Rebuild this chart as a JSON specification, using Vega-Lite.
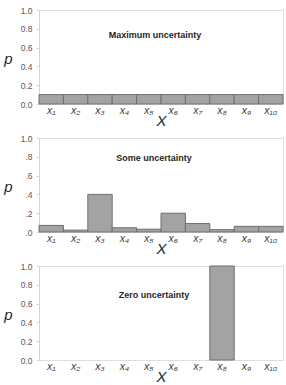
{
  "$schema": "https://vega.github.io/schema/vega-lite/v6.json",
  "background": "white",
  "padding": {"left": 3, "top": 5, "right": 4, "bottom": 2},
  "datasets": {
    "maximum": [
      {"x": "x₁", "p": 0.1}, {"x": "x₂", "p": 0.1}, {"x": "x₃", "p": 0.1}, {"x": "x₄", "p": 0.1}, {"x": "x₅", "p": 0.1},
      {"x": "x₆", "p": 0.1}, {"x": "x₇", "p": 0.1}, {"x": "x₈", "p": 0.1}, {"x": "x₉", "p": 0.1}, {"x": "x₁₀", "p": 0.1}
    ],
    "some": [
      {"x": "x₁", "p": 0.07}, {"x": "x₂", "p": 0.02}, {"x": "x₃", "p": 0.40}, {"x": "x₄", "p": 0.045}, {"x": "x₅", "p": 0.03},
      {"x": "x₆", "p": 0.20}, {"x": "x₇", "p": 0.09}, {"x": "x₈", "p": 0.025}, {"x": "x₉", "p": 0.06}, {"x": "x₁₀", "p": 0.06}
    ],
    "zero": [
      {"x": "x₁", "p": 0}, {"x": "x₂", "p": 0}, {"x": "x₃", "p": 0}, {"x": "x₄", "p": 0}, {"x": "x₅", "p": 0},
      {"x": "x₆", "p": 0}, {"x": "x₇", "p": 0}, {"x": "x₈", "p": 1.0}, {"x": "x₉", "p": 0}, {"x": "x₁₀", "p": 0}
    ]
  },
  "vconcat": [
    {
      "width": 244,
      "height": 94,
      "layer": [
        {
          "data": {"name": "maximum"},
          "transform": [{"filter": "datum.p > 0"}],
          "mark": {"type": "bar", "fill": "#a3a3a3", "stroke": "#6f6f6f", "strokeWidth": 1},
          "encoding": {
            "x": {"field": "x", "type": "nominal", "sort": null,
                  "scale": {"domain": ["x₁","x₂","x₃","x₄","x₅","x₆","x₇","x₈","x₉","x₁₀"], "paddingInner": 0, "paddingOuter": 0},
                  "title": "X"},
            "y": {"field": "p", "type": "quantitative", "scale": {"domain": [0, 1], "nice": false},
                  "axis": {"values": [0, 0.2, 0.4, 0.6, 0.8, 1.0], "format": ".1f", "labelOverlap": false}, "title": "p"}
          }
        },
        {
          "data": {"values": [{"label": "Maximum uncertainty"}]},
          "mark": {"type": "text", "font": "Liberation Sans", "fontWeight": "bold", "fontSize": 9, "color": "#262626", "dx": -6},
          "encoding": {
            "x": {"datum": "x₅", "bandPosition": 1, "type": "nominal"},
            "y": {"datum": 0.73, "type": "quantitative",
                  "axis": {"values": [0, 0.2, 0.4, 0.6, 0.8, 1.0], "format": ".1f", "labelOverlap": false}, "title": "p"},
            "text": {"field": "label"}
          }
        }
      ]
    },
    {
      "width": 244,
      "height": 94,
      "layer": [
        {
          "data": {"name": "some"},
          "transform": [{"filter": "datum.p > 0"}],
          "mark": {"type": "bar", "fill": "#a3a3a3", "stroke": "#6f6f6f", "strokeWidth": 1},
          "encoding": {
            "x": {"field": "x", "type": "nominal", "sort": null,
                  "scale": {"domain": ["x₁","x₂","x₃","x₄","x₅","x₆","x₇","x₈","x₉","x₁₀"], "paddingInner": 0, "paddingOuter": 0},
                  "title": "X"},
            "y": {"field": "p", "type": "quantitative", "scale": {"domain": [0, 1], "nice": false},
                  "axis": {"values": [0, 0.2, 0.4, 0.6, 0.8, 1.0], "labelOverlap": false,
                           "labelExpr": "datum.value >= 1 ? '1.0' : replace(format(datum.value, '.1f'), '0.', '.')"},
                  "title": "p"}
          }
        },
        {
          "data": {"values": [{"label": "Some uncertainty"}]},
          "mark": {"type": "text", "font": "Liberation Sans", "fontWeight": "bold", "fontSize": 9, "color": "#262626", "dx": -7},
          "encoding": {
            "x": {"datum": "x₅", "bandPosition": 1, "type": "nominal"},
            "y": {"datum": 0.79, "type": "quantitative",
                  "axis": {"values": [0, 0.2, 0.4, 0.6, 0.8, 1.0], "labelOverlap": false,
                           "labelExpr": "datum.value >= 1 ? '1.0' : replace(format(datum.value, '.1f'), '0.', '.')"},
                  "title": "p"},
            "text": {"field": "label"}
          }
        }
      ]
    },
    {
      "width": 244,
      "height": 94,
      "layer": [
        {
          "data": {"name": "zero"},
          "transform": [{"filter": "datum.p > 0"}],
          "mark": {"type": "bar", "fill": "#a3a3a3", "stroke": "#6f6f6f", "strokeWidth": 1},
          "encoding": {
            "x": {"field": "x", "type": "nominal", "sort": null,
                  "scale": {"domain": ["x₁","x₂","x₃","x₄","x₅","x₆","x₇","x₈","x₉","x₁₀"], "paddingInner": 0, "paddingOuter": 0},
                  "title": "X"},
            "y": {"field": "p", "type": "quantitative", "scale": {"domain": [0, 1], "nice": false},
                  "axis": {"values": [0, 0.2, 0.4, 0.6, 0.8, 1.0], "format": ".1f", "labelOverlap": false}, "title": "p"}
          }
        },
        {
          "data": {"values": [{"label": "Zero uncertainty"}]},
          "mark": {"type": "text", "font": "Liberation Sans", "fontWeight": "bold", "fontSize": 9, "color": "#262626", "dx": -7},
          "encoding": {
            "x": {"datum": "x₅", "bandPosition": 1, "type": "nominal"},
            "y": {"datum": 0.69, "type": "quantitative",
                  "axis": {"values": [0, 0.2, 0.4, 0.6, 0.8, 1.0], "format": ".1f", "labelOverlap": false}, "title": "p"},
            "text": {"field": "label"}
          }
        }
      ]
    }
  ],
  "spacing": 34,
  "bounds": "flush",
  "config": {
    "view": {"stroke": "#dedede", "strokeWidth": 1},
    "axisX": {
      "domain": false,
      "ticks": false,
      "labelAngle": 0,
      "labelFont": "Liberation Sans",
      "labelFontStyle": "italic",
      "labelFontSize": 10.5,
      "labelColor": "#404040",
      "labelPadding": 1,
      "titleFont": "Liberation Sans",
      "titleFontStyle": "italic",
      "titleFontWeight": "normal",
      "titleFontSize": 15,
      "titleColor": "#262626",
      "titlePadding": -2
    },
    "axisY": {
      "grid": false,
      "domainColor": "#d4d4d4",
      "tickColor": "#d4d4d4",
      "tickSize": 3,
      "labelFlush": false,
      "labelFont": "Liberation Sans",
      "labelFontSize": 8.5,
      "labelColor": "#595959",
      "labelPadding": 4,
      "titleFont": "Liberation Sans",
      "titleFontStyle": "italic",
      "titleFontWeight": "normal",
      "titleFontSize": 15,
      "titleColor": "#262626",
      "titleAngle": 0,
      "titleAlign": "center",
      "titleBaseline": "middle",
      "titleX": -31,
      "titleY": 48
    }
  }
}
